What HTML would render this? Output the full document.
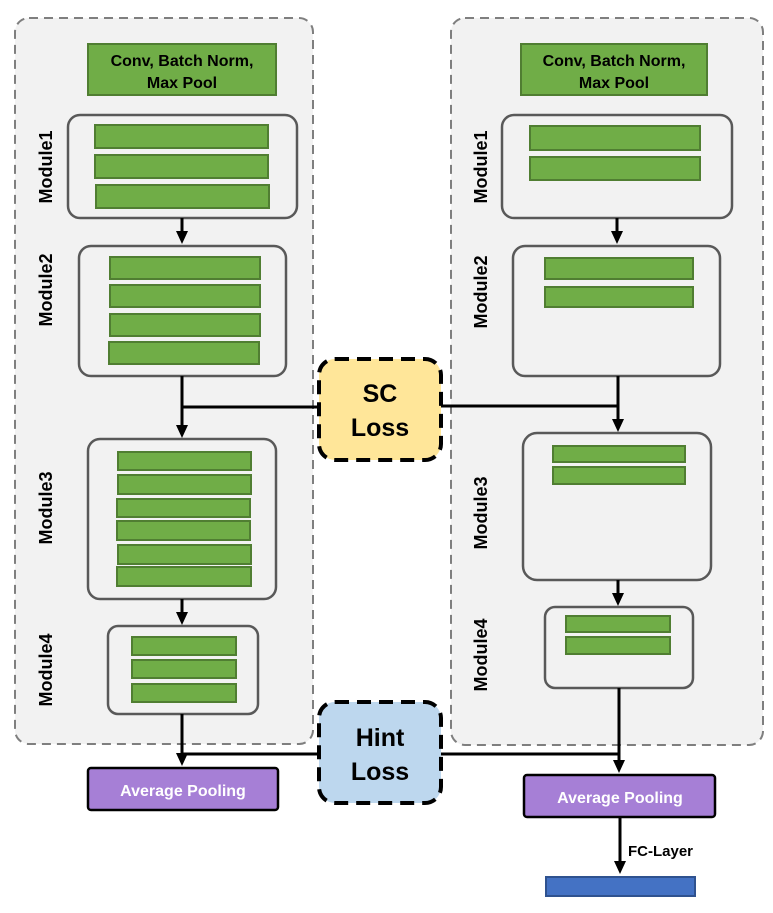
<!DOCTYPE html>
<html><head><meta charset="utf-8"><style>
html,body{margin:0;padding:0;background:#fff}
svg{display:block}
text{font-family:"Liberation Sans",sans-serif;font-weight:bold}
</style></head><body>
<svg width="773" height="913" viewBox="0 0 773 913" xmlns="http://www.w3.org/2000/svg">
<style>
.cont{fill:#f2f2f2;stroke:#7f7f7f;stroke-width:2;stroke-dasharray:9,6}
.mod{fill:#f2f2f2;stroke:#595959;stroke-width:2.5}
.bar{fill:#70ad47;stroke:#507e32;stroke-width:2}
.ln{stroke:#000;stroke-width:3;fill:none}
.lbl{font-size:18px;fill:#000}
</style>
<rect class="cont" x="15" y="18" width="298" height="726" rx="14"/>
<rect class="cont" x="451" y="18" width="312" height="727" rx="14"/>
<rect class="bar" x="88" y="44" width="188" height="51"/>
<text x="182" y="66" text-anchor="middle" font-size="16">Conv, Batch Norm,</text>
<text x="182" y="88" text-anchor="middle" font-size="16">Max Pool</text>
<rect class="bar" x="521" y="44" width="186" height="51"/>
<text x="614" y="66" text-anchor="middle" font-size="16">Conv, Batch Norm,</text>
<text x="614" y="88" text-anchor="middle" font-size="16">Max Pool</text>

<rect class="mod" x="68" y="115" width="229" height="103" rx="12"/>
<rect class="bar" x="95" y="125" width="173" height="23"/>
<rect class="bar" x="95" y="155" width="173" height="23"/>
<rect class="bar" x="96" y="185" width="173" height="23"/>
<rect class="mod" x="79" y="246" width="207" height="130" rx="12"/>
<rect class="bar" x="110" y="257" width="150" height="22"/>
<rect class="bar" x="110" y="285" width="150" height="22"/>
<rect class="bar" x="110" y="314" width="150" height="22"/>
<rect class="bar" x="109" y="342" width="150" height="22"/>
<rect class="mod" x="88" y="439" width="188" height="160" rx="12"/>
<rect class="bar" x="118" y="452" width="133" height="18"/>
<rect class="bar" x="118" y="475" width="133" height="19"/>
<rect class="bar" x="117" y="499" width="133" height="18"/>
<rect class="bar" x="117" y="521" width="133" height="19"/>
<rect class="bar" x="118" y="545" width="133" height="19"/>
<rect class="bar" x="117" y="567" width="134" height="19"/>
<rect class="mod" x="108" y="626" width="150" height="88" rx="10"/>
<rect class="bar" x="132" y="637" width="104" height="18"/>
<rect class="bar" x="132" y="660" width="104" height="18"/>
<rect class="bar" x="132" y="684" width="104" height="18"/>

<rect class="mod" x="502" y="115" width="230" height="103" rx="12"/>
<rect class="bar" x="530" y="126" width="170" height="24"/>
<rect class="bar" x="530" y="157" width="170" height="23"/>
<rect class="mod" x="513" y="246" width="207" height="130" rx="12"/>
<rect class="bar" x="545" y="258" width="148" height="21"/>
<rect class="bar" x="545" y="287" width="148" height="20"/>
<rect class="mod" x="523" y="433" width="188" height="147" rx="14"/>
<rect class="bar" x="553" y="446" width="132" height="16"/>
<rect class="bar" x="553" y="467" width="132" height="17"/>
<rect class="mod" x="545" y="607" width="148" height="81" rx="10"/>
<rect class="bar" x="566" y="616" width="104" height="16"/>
<rect class="bar" x="566" y="637" width="104" height="17"/>

<text class="lbl" transform="translate(52,167) rotate(-90)" text-anchor="middle">Module1</text>
<text class="lbl" transform="translate(52,290) rotate(-90)" text-anchor="middle">Module2</text>
<text class="lbl" transform="translate(52,508) rotate(-90)" text-anchor="middle">Module3</text>
<text class="lbl" transform="translate(52,670) rotate(-90)" text-anchor="middle">Module4</text>
<text class="lbl" transform="translate(487,167) rotate(-90)" text-anchor="middle">Module1</text>
<text class="lbl" transform="translate(487,292) rotate(-90)" text-anchor="middle">Module2</text>
<text class="lbl" transform="translate(487,513) rotate(-90)" text-anchor="middle">Module3</text>
<text class="lbl" transform="translate(487,655) rotate(-90)" text-anchor="middle">Module4</text>

<line class="ln" x1="182" y1="218" x2="182" y2="234"/>
<path d="M176,231 L188,231 L182,244 Z"/>
<line class="ln" x1="182" y1="376" x2="182" y2="428"/>
<path d="M176,425 L188,425 L182,438 Z"/>
<line class="ln" x1="182" y1="599" x2="182" y2="615"/>
<path d="M176,612 L188,612 L182,625 Z"/>
<line class="ln" x1="182" y1="714" x2="182" y2="756"/>
<path d="M176,753 L188,753 L182,766 Z"/>
<line class="ln" x1="617" y1="218" x2="617" y2="234"/>
<path d="M611,231 L623,231 L617,244 Z"/>
<line class="ln" x1="618" y1="376" x2="618" y2="422"/>
<path d="M612,419 L624,419 L618,432 Z"/>
<line class="ln" x1="618" y1="580" x2="618" y2="596"/>
<path d="M612,593 L624,593 L618,606 Z"/>
<line class="ln" x1="619" y1="688" x2="619" y2="763"/>
<path d="M613,760 L625,760 L619,773 Z"/>
<line class="ln" x1="620" y1="817" x2="620" y2="864"/>
<path d="M614,861 L626,861 L620,874 Z"/>

<line class="ln" x1="182" y1="407" x2="318" y2="407"/>
<line class="ln" x1="441" y1="406" x2="618" y2="406"/>
<line class="ln" x1="182" y1="754" x2="318" y2="754"/>
<line class="ln" x1="441" y1="754" x2="619" y2="754"/>

<rect x="319" y="359" width="122" height="101" rx="16" fill="#ffe699" stroke="#000" stroke-width="4" stroke-dasharray="14,8"/>
<text x="380" y="402" text-anchor="middle" font-size="25">SC</text>
<text x="380" y="436" text-anchor="middle" font-size="25">Loss</text>
<rect x="319" y="702" width="122" height="101" rx="16" fill="#bdd7ee" stroke="#000" stroke-width="4" stroke-dasharray="14,8"/>
<text x="380" y="746" text-anchor="middle" font-size="25">Hint</text>
<text x="380" y="780" text-anchor="middle" font-size="25">Loss</text>

<rect x="88" y="768" width="190" height="42" rx="3" fill="#a67fd6" stroke="#000" stroke-width="2.5"/>
<text x="183" y="796" text-anchor="middle" font-size="16" fill="#fff">Average Pooling</text>
<rect x="524" y="775" width="191" height="42" rx="3" fill="#a67fd6" stroke="#000" stroke-width="2.5"/>
<text x="620" y="803" text-anchor="middle" font-size="16" fill="#fff">Average Pooling</text>
<text x="628" y="856" font-size="15">FC-Layer</text>
<rect x="546" y="877" width="149" height="19" fill="#4472c4" stroke="#2f528f" stroke-width="2"/>
</svg>
</body></html>
